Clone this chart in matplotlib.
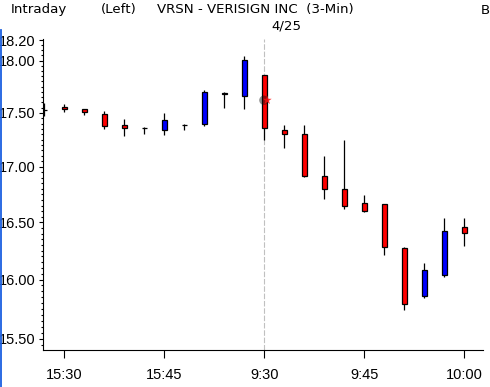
import numpy as np
import matplotlib
matplotlib.use('Agg')
import matplotlib.pyplot as plt
from matplotlib.lines import Line2D
from matplotlib.ticker import FixedLocator, FixedFormatter, NullFormatter

# ---- data (3-minute bars) ----
times = ['15:27', '15:30', '15:33', '15:36', '15:39', '15:42', '15:45', '15:48',
         '15:51', '15:54', '15:57', '9:30', '9:33', '9:36', '9:39', '9:42',
         '9:45', '9:48', '9:51', '9:54', '9:57', '10:00']
opens = [17.53, 17.56, 17.54, 17.49, 17.39, 17.36, 17.34, 17.39, 17.40, 17.68, 17.66,
         17.86, 17.34, 17.30, 16.92, 16.80, 16.67, 16.66, 16.27, 15.86, 16.04, 16.46]
highs = [17.59, 17.58, 17.54, 17.52, 17.44, 17.37, 17.50, 17.40, 17.72, 17.70, 18.04,
         17.86, 17.39, 17.39, 17.10, 17.25, 16.74, 16.66, 16.28, 16.14, 16.54, 16.54]
lows = [17.47, 17.51, 17.48, 17.35, 17.28, 17.30, 17.29, 17.34, 17.38, 17.55, 17.54,
        17.25, 17.17, 16.91, 16.71, 16.62, 16.59, 16.21, 15.74, 15.84, 16.02, 16.29]
closes = [17.53, 17.54, 17.51, 17.38, 17.36, 17.36, 17.43, 17.39, 17.70, 17.69, 18.01,
          17.36, 17.30, 16.92, 16.80, 16.65, 16.60, 16.28, 15.79, 16.08, 16.42, 16.41]

ytick_vals = [15.50, 16.00, 16.50, 17.00, 17.50, 18.00, 18.20]
xtick_labels = ['15:30', '15:45', '9:30', '9:45', '10:00']
session_break = '9:30'
marker_price = 17.62

tickfont = ['Liberation Sans', 'DejaVu Sans']

W, H = 490, 387
fig = plt.figure(figsize=(W / 100, H / 100), dpi=100)
ax = fig.add_axes([43.3 / W, 1 - 350 / H, (483 - 43.3) / W, (350 - 39) / H])

x = np.arange(len(times))
o = np.array(opens); c = np.array(closes)
colors = ['#ff0000' if cc < oo else '#0000ff' for oo, cc in zip(o, c)]

ax.vlines(x, lows, highs, color='black', lw=0.9, zorder=2)
ax.bar(x, c - o, bottom=o, width=0.26, color=colors, edgecolor='black',
       linewidth=0.9, zorder=3)

ax.set_yscale('log')
ax.set_ylim(15.405, 18.21)
ax.set_xlim(-0.05, 21.94)

# session break line
bx = times.index(session_break)
ax.axvline(bx, color='#c0c0c0', lw=0.8, ls=(0, (5, 1.6)), zorder=1)

# current price glow marker
ax.scatter([bx - 0.02], [marker_price], s=45, color='#101010', alpha=0.45,
           edgecolors='none', zorder=4)
ax.scatter([bx + 0.15], [marker_price], s=45, marker='*', color='#ff1010',
           alpha=0.85, edgecolors='none', zorder=5)

# y axis ticks
ax.yaxis.set_major_locator(FixedLocator(ytick_vals))
ax.yaxis.set_major_formatter(FixedFormatter(['%.2f' % v for v in ytick_vals]))
minor = [round(v, 2) for v in np.arange(15.45, 18.2, 0.05)
         if all(abs(v - t) > 1e-6 for t in ytick_vals)]
ax.yaxis.set_minor_locator(FixedLocator(minor))
ax.yaxis.set_minor_formatter(NullFormatter())

# x axis ticks
xt = [times.index(t) for t in xtick_labels]
ax.set_xticks(xt)
ax.set_xticklabels(xtick_labels)
ax.xaxis.set_minor_locator(FixedLocator([]))

ax.tick_params(axis='y', which='major', length=3, width=0.8, pad=2.5,
               direction='out', labelsize=10.5, colors='black')
ax.tick_params(axis='y', which='minor', length=1.6, width=0.8, direction='out')
ax.tick_params(axis='x', which='major', length=6, width=0.8, pad=7,
               direction='out', labelsize=10.5)
for lbl in ax.get_xticklabels() + ax.get_yticklabels():
    lbl.set_family(tickfont)

for s in ['top', 'right']:
    ax.spines[s].set_visible(False)
for s in ['left', 'bottom']:
    ax.spines[s].set_linewidth(0.8)

# header texts
def ftext(px, py, s, **kw):
    fig.text(px / W, 1 - py / H, s, va='center', ha='left',
             family=['DejaVu Sans'], **kw)

ftext(11, 10, 'Intraday', fontsize=9.6)
ftext(101, 10, '(Left)', fontsize=9.6)
ftext(157, 10, 'VRSN - VERISIGN INC  (3-Min)', fontsize=9.6)
ftext(481, 10, 'B', fontsize=9.6)
ftext(271, 26, '4/25', fontsize=9.6)

# left blue edge line
fig.add_artist(Line2D([0.5 / W, 0.5 / W], [0, 1 - 30 / H], color='#1a5fe0',
                      lw=1.3, transform=fig.transFigure))

fig.savefig('out.png', dpi=100)
